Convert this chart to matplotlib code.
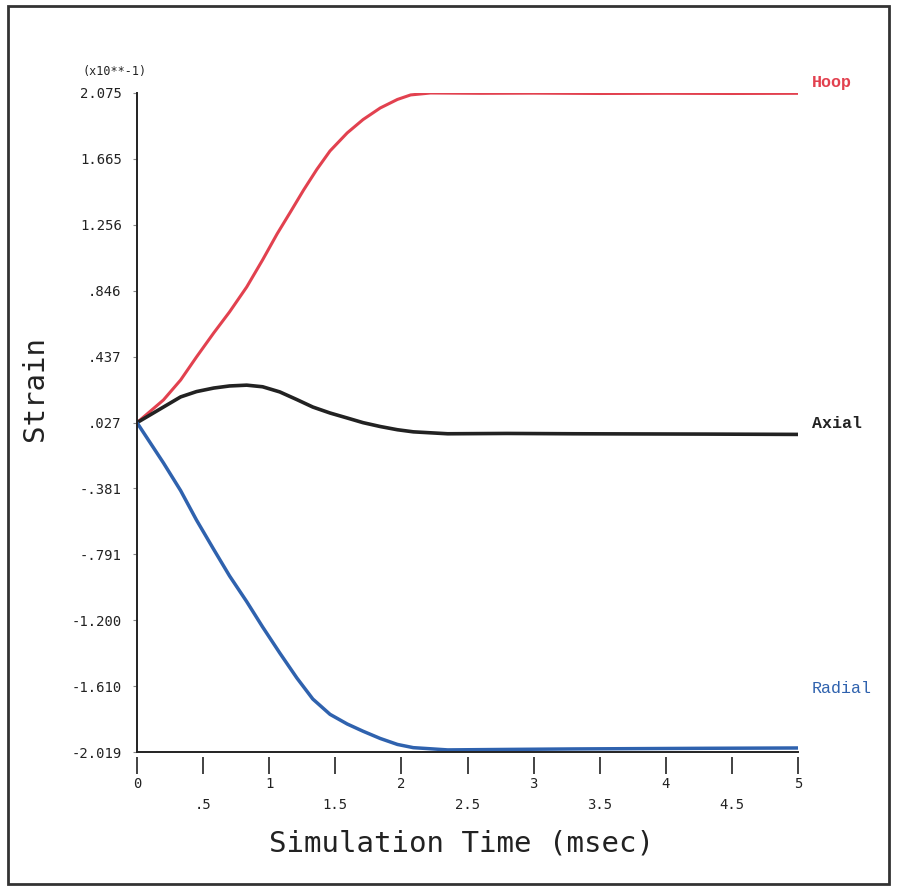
import matplotlib
matplotlib.use('Agg')
import matplotlib.pyplot as plt
from matplotlib.patches import Rectangle

# time (msec) and strain (x10**-1)
hoop_t = [0.0, 0.2, 0.33, 0.45, 0.58, 0.70, 0.83, 0.95, 1.06, 1.16, 1.26, 1.36, 1.46, 1.59, 1.71, 1.84, 1.97, 2.07, 2.22, 2.6, 3.0, 3.5, 4.0, 4.5, 5.0]
hoop_v = [0.027, 0.168, 0.292, 0.435, 0.584, 0.715, 0.870, 1.038, 1.200, 1.335, 1.472, 1.600, 1.715, 1.827, 1.910, 1.982, 2.035, 2.063, 2.075, 2.073, 2.074, 2.072, 2.073, 2.072, 2.073]

axial_t = [0.0, 0.2, 0.33, 0.45, 0.58, 0.70, 0.83, 0.95, 1.08, 1.21, 1.33, 1.46, 1.59, 1.71, 1.84, 1.97, 2.09, 2.35, 2.8, 3.3, 3.8, 4.3, 5.0]
axial_v = [0.027, 0.124, 0.187, 0.220, 0.242, 0.255, 0.260, 0.250, 0.218, 0.170, 0.124, 0.087, 0.056, 0.027, 0.003, -0.017, -0.030, -0.042, -0.040, -0.042, -0.043, -0.044, -0.046]

radial_t = [0.0, 0.2, 0.33, 0.45, 0.58, 0.70, 0.83, 0.95, 1.08, 1.21, 1.33, 1.46, 1.59, 1.71, 1.84, 1.97, 2.09, 2.35, 2.8, 3.3, 3.8, 4.3, 5.0]
radial_v = [0.027, -0.223, -0.395, -0.578, -0.760, -0.925, -1.085, -1.242, -1.404, -1.560, -1.690, -1.785, -1.845, -1.890, -1.935, -1.972, -1.992, -2.006, -2.003, -2.000, -1.998, -1.996, -1.994]

y_ticks = [2.075, 1.665, 1.256, 0.846, 0.437, 0.027, -0.381, -0.791, -1.200, -1.610, -2.019]
y_labels = ['2.075', '1.665', '1.256', '.846', '.437', '.027', '-.381', '-.791', '-1.200', '-1.610', '-2.019']
x_ticks = [0, 0.5, 1, 1.5, 2, 2.5, 3, 3.5, 4, 4.5, 5]
x_labels = ['0', '\n.5', '1', '\n1.5', '2', '\n2.5', '3', '\n3.5', '4', '\n4.5', '5']

red = '#e2414f'
blue = '#2f62ae'
dark = '#222222'
mono = 'DejaVu Sans Mono'

fig = plt.figure(figsize=(8.98, 8.96), dpi=100)
ax = fig.add_axes([137/898, 1 - 752/896, (798 - 137)/898, (752 - 93)/896])

ax.plot(hoop_t, hoop_v, color=red, lw=2.2, solid_capstyle='butt', solid_joinstyle='round')
ax.plot(axial_t, axial_v, color=dark, lw=2.6, solid_capstyle='butt', solid_joinstyle='round')
ax.plot(radial_t, radial_v, color=blue, lw=2.5, solid_capstyle='butt', solid_joinstyle='round')

ax.set_xlim(0, 5)
ax.set_ylim(-2.019, 2.075)
for s in ['top', 'right']:
    ax.spines[s].set_visible(False)
for s in ['left', 'bottom']:
    ax.spines[s].set_linewidth(1.4)
    ax.spines[s].set_color(dark)

ax.set_yticks(y_ticks)
ax.set_yticklabels(y_labels, family=mono, fontsize=10, color=dark)
ax.tick_params(axis='y', direction='out', length=3, width=0.8, pad=8, colors='#888888', labelcolor=dark)

# x ticks sit a little below the axis line, like the plotter output
ax.set_xticks([])
sec = ax.secondary_xaxis(-0.008)
sec.spines['bottom'].set_visible(False)
sec.set_xticks(x_ticks)
sec.set_xticklabels(x_labels, family=mono, fontsize=10, color=dark, linespacing=1.7)
sec.tick_params(axis='x', direction='out', length=12, width=1.2, pad=2, colors=dark)

fig.text(462/898, 1 - 843/896, 'Simulation Time (msec)', family=mono, fontsize=21,
         color=dark, ha='center', va='center')
fig.text(35/898, 1 - 388/896, 'Strain', rotation=90, family=mono, fontsize=21,
         color=dark, ha='center', va='center')
fig.text(115/898, 1 - 72/896, '(x10**-1)', family=mono, fontsize=8.5, color=dark,
         ha='center', va='center')

# series labels at right end
fig.text(812/898, 1 - 82/896, 'Hoop', family='Liberation Mono', fontsize=12,
         fontweight='bold', color=red, va='center')
fig.text(812/898, 1 - 423/896, 'Axial', family='Liberation Mono', fontsize=12,
         fontweight='bold', color=dark, va='center')
fig.text(812/898, 1 - 688/896, 'Radial', family='Liberation Mono', fontsize=12,
         color=blue, va='center')

# outer frame
fig.patches.append(Rectangle((8/898, 1 - 884/896), (889 - 8)/898, (884 - 6)/896,
                             transform=fig.transFigure, fill=False, lw=2, ec='#333333'))

fig.savefig('out.png', dpi=100)
